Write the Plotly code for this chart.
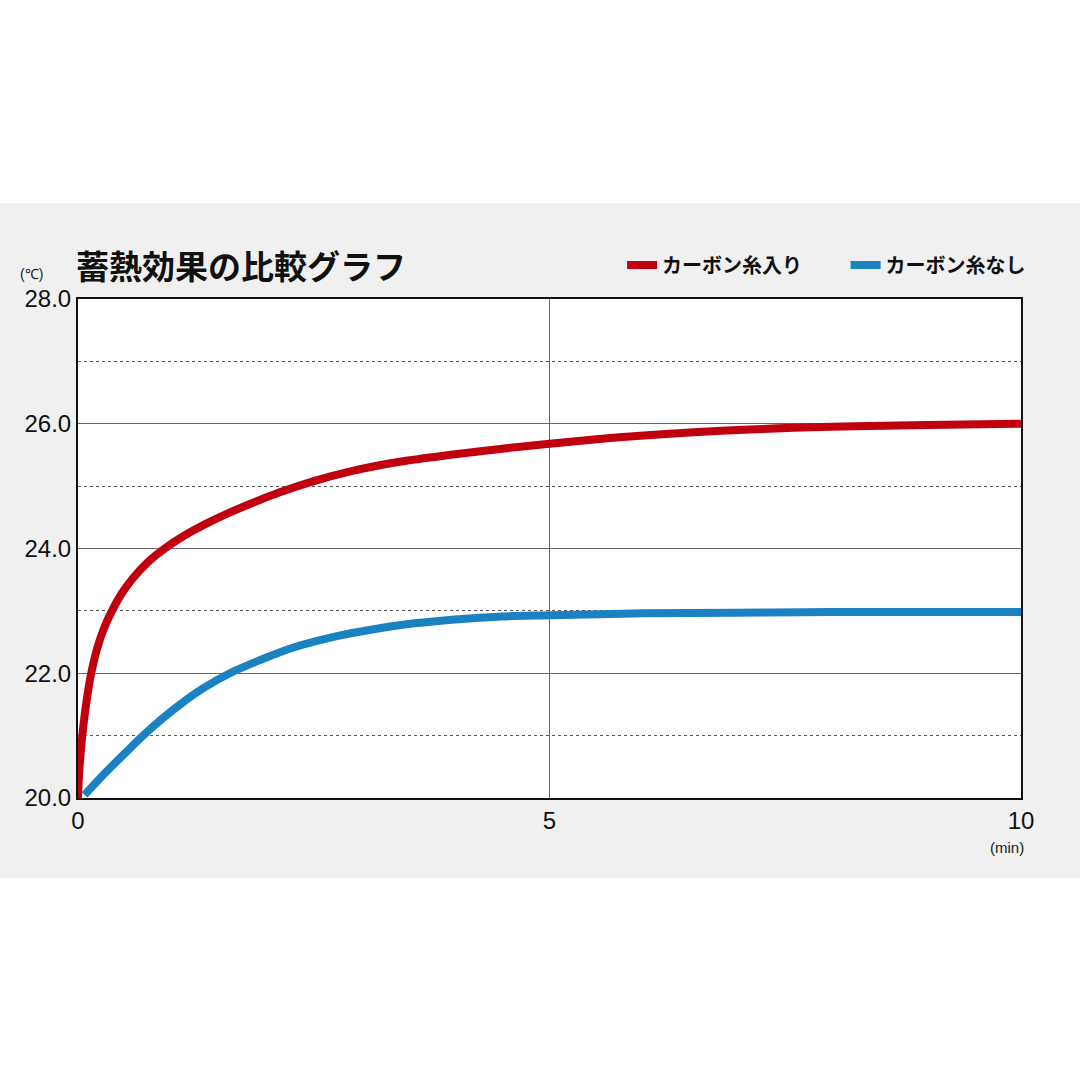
import plotly.graph_objects as go

# 経過時間 (min) と温度 (℃)
t_carbon = [0, 0.01, 0.03, 0.06, 0.1, 0.14, 0.2, 0.27, 0.36, 0.46, 0.58, 0.74, 0.92, 1.12, 1.35,
            1.6, 1.85, 2.14, 2.5, 2.9, 3.41, 4.0, 4.5, 5.0, 5.5, 6.0, 7.0, 8.0, 9.0, 10.0]
temp_carbon = [20.0, 20.35, 20.75, 21.2, 21.65, 22.0, 22.38, 22.7, 23.0, 23.27, 23.52, 23.78, 24.0, 24.2, 24.39,
               24.57, 24.73, 24.9, 25.08, 25.24, 25.39, 25.51, 25.6, 25.68, 25.75, 25.81, 25.9, 25.95, 25.98, 26.0]

t_plain = [0.07, 0.3, 0.5, 0.69, 0.9, 1.1, 1.35, 1.61, 1.93, 2.3, 2.7, 3.0, 3.41, 4.0, 4.5, 5.0,
           6.0, 7.0, 8.0, 10.0]
temp_plain = [20.05, 20.42, 20.72, 21.0, 21.28, 21.52, 21.78, 22.0, 22.21, 22.42, 22.58, 22.67, 22.77, 22.86,
              22.91, 22.93, 22.96, 22.97, 22.98, 22.98]

series_names = ['カーボン糸入り', 'カーボン糸なし']
x_ticks = [0, 5, 10]
y_ticks = [20, 22, 24, 26, 28]

RED = '#c0000f'
BLUE = '#1a82c0'
GREY = '#f0f0f0'
JP = 'Noto Sans CJK JP'

fig = go.Figure()
fig.add_trace(go.Scatter(x=t_carbon, y=temp_carbon, mode='lines', name=series_names[0], legend='legend',
                         line=dict(color=RED, width=8, shape='spline', smoothing=1)))
fig.add_trace(go.Scatter(x=t_plain, y=temp_plain, mode='lines', name=series_names[1], legend='legend2',
                         line=dict(color=BLUE, width=8, shape='spline', smoothing=1)))

# 上下の白い余白 (灰色の帯の外側)
fig.add_shape(type='rect', xref='paper', yref='paper', x0=-0.2, x1=1.2, y0=1.1924, y1=1.8,
              fillcolor='white', line_width=0, layer='below')
fig.add_shape(type='rect', xref='paper', yref='paper', x0=-0.2, x1=1.2, y0=-0.8, y1=-0.1603,
              fillcolor='white', line_width=0, layer='below')

legend_font = dict(family=JP, size=20, weight='bold', color='#111')

fig.update_layout(
    width=1080, height=1080,
    margin=dict(l=78, r=59, t=299, b=282),
    paper_bgcolor=GREY,
    plot_bgcolor='white',
    font=dict(family='Liberation Sans, Arial, sans-serif', color='#111'),
    showlegend=True,
    legend=dict(x=0.577, xanchor='left', y=1.068, yanchor='middle', bgcolor='rgba(0,0,0,0)',
                font=legend_font),
    legend2=dict(x=0.814, xanchor='left', y=1.068, yanchor='middle', bgcolor='rgba(0,0,0,0)',
                 font=legend_font),
    xaxis=dict(range=[0, 10], tickvals=x_ticks, ticktext=[str(v) for v in x_ticks],
               showgrid=True, gridcolor='#666', gridwidth=1,
               showline=True, linecolor='#111', linewidth=2, mirror=True,
               ticks='', tickfont=dict(size=24), zeroline=False),
    yaxis=dict(range=[20, 28], tickvals=y_ticks, ticktext=[f'{v:.1f}' for v in y_ticks],
               showgrid=True, gridcolor='#666', gridwidth=1,
               minor=dict(dtick=1, showgrid=True, gridcolor='#555', gridwidth=1, griddash='3px,3px'),
               showline=True, linecolor='#111', linewidth=2, mirror=True,
               ticks='', tickfont=dict(size=24), zeroline=False),
)

fig.add_annotation(text='<b>蓄熱効果の比較グラフ</b>', xref='paper', yref='paper', x=-0.004, y=1.068,
                   xanchor='left', yanchor='middle', showarrow=False,
                   font=dict(family=JP, size=33, color='#111'))
fig.add_annotation(text='(℃)', xref='paper', yref='paper', x=-0.049, y=1.05,
                   xanchor='center', yanchor='middle', showarrow=False,
                   font=dict(size=14, color='#222'))
fig.add_annotation(text='(min)', xref='paper', yref='paper', x=0.985, y=-0.1,
                   xanchor='center', yanchor='middle', showarrow=False,
                   font=dict(size=15, color='#222'))

fig.write_html('out.html', config={'displayModeBar': False},
               post_script="document.body.style.margin='0';")
